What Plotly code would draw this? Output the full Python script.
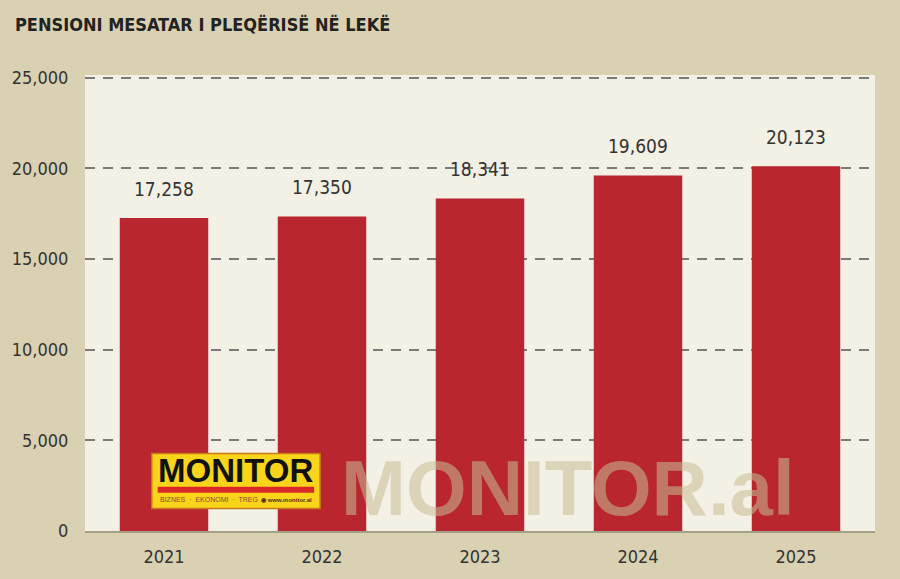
import plotly.graph_objects as go

years = ["2021", "2022", "2023", "2024", "2025"]
pension = [17258, 17350, 18341, 19609, 20123]
value_labels = ["17,258", "17,350", "18,341", "19,609", "20,123"]
y_ticks = [0, 5000, 10000, 15000, 20000, 25000]
y_tick_labels = ["0", "5,000", "10,000", "15,000", "20,000", "25,000"]
title_text = "PENSIONI MESATAR I PLEQËRISË NË LEKË"

BG = "#d9d1b1"
PLOT_BG = "#f3f0e5"
BAR = "#b9262f"
TXT = "#333333"
FONT = "DejaVu Sans Condensed, Liberation Sans Narrow, sans-serif"

idx = list(range(len(years)))

fig = go.Figure()
fig.add_trace(go.Bar(x=idx, y=pension, marker=dict(color=BAR, line=dict(width=0)),
                     width=0.56, hoverinfo="skip"))

for i, v, lab in zip(idx, pension, value_labels):
    fig.add_annotation(x=i, y=v, xref="x", yref="y", text=lab, showarrow=False, yshift=29,
                       font=dict(family=FONT, size=19, color=TXT))

# watermark
fig.add_annotation(xref="paper", yref="paper", x=0.612, y=0.094, text="<b>MONITOR.al</b>",
                   showarrow=False, xanchor="center", yanchor="middle",
                   font=dict(family="Liberation Sans, Arial, sans-serif", size=78,
                             color="rgba(200,190,150,0.55)"))

# logo
fig.add_shape(type="rect", xref="paper", yref="paper", x0=0.0845, x1=0.2976, y0=0.0496, y1=0.170,
              fillcolor="#f8d41a", line=dict(color="#c8781a", width=1.5), layer="above")
fig.add_shape(type="rect", xref="paper", yref="paper", x0=0.092, x1=0.290, y0=0.084, y1=0.097,
              fillcolor="#d8282a", line=dict(width=0), layer="above")
fig.add_annotation(xref="paper", yref="paper", x=0.191, y=0.1325, text="<b>MONITOR</b>",
                   showarrow=False, xanchor="center", yanchor="middle",
                   font=dict(family="Liberation Sans, Arial, sans-serif", size=33, color="#111111"))
fig.add_annotation(xref="paper", yref="paper", x=0.093, y=0.069, text="BIZNES  ·  EKONOMI  ·  TREG",
                   showarrow=False, xanchor="left", yanchor="middle",
                   font=dict(family="Liberation Sans, Arial, sans-serif", size=7, color="#8a4a2a"))
fig.add_annotation(xref="paper", yref="paper", x=0.290, y=0.069, text="<b>◉ www.monitor.al</b>",
                   showarrow=False, xanchor="right", yanchor="middle",
                   font=dict(family="Liberation Sans, Arial, sans-serif", size=6, color="#5a2a1a"))

fig.update_layout(
    width=900, height=579,
    paper_bgcolor=BG, plot_bgcolor=PLOT_BG,
    margin=dict(l=82, r=25, t=75, b=40),
    showlegend=False,
    title=dict(text="<b>" + title_text + "</b>", xref="container", yref="container",
               x=15/900, xanchor="left", y=1-25/579, yanchor="middle",
               font=dict(family="DejaVu Sans Condensed, sans-serif",
                         size=18, color="#222222")),
    xaxis=dict(type="linear", range=[-0.5, len(years) - 0.5], tickvals=idx, ticktext=years,
               showgrid=False, zeroline=False, tickfont=dict(family=FONT, size=18, color=TXT),
               ticks="outside", ticklen=8, tickcolor="rgba(0,0,0,0)",
               showline=True, linecolor="#a69f88", linewidth=2),
    yaxis=dict(range=[0, 25150], tickvals=y_ticks, ticktext=y_tick_labels,
               tickfont=dict(family=FONT, size=18, color=TXT),
               ticks="outside", ticklen=12, tickcolor="rgba(0,0,0,0)",
               showgrid=True, gridcolor="#7a7a7a", gridwidth=1.5, griddash="10px,8px",
               zeroline=False),
)

fig.write_html("out.html")
